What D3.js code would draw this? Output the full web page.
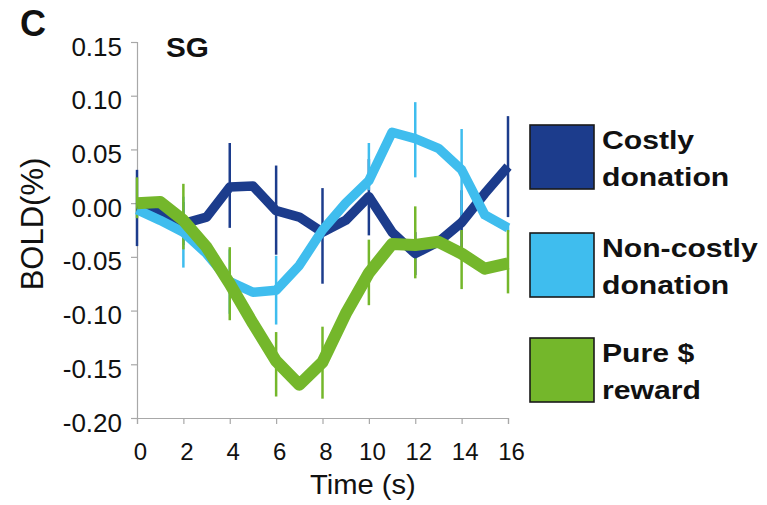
<!DOCTYPE html>
<html>
<head>
<meta charset="utf-8">
<script src="https://cdn.jsdelivr.net/npm/d3@7"></script>
<style>
  html, body { margin: 0; padding: 0; background: #ffffff; }
  svg { display: block; }
  text { font-family: "Liberation Sans", Arial, Helvetica, sans-serif; fill: #111; }
</style>
</head>
<body>
<svg id="chart" width="767" height="505"></svg>
<script>
// ---------- data ----------
const times = [0,1,2,3,4,5,6,7,8,9,10,11,12,13,14,15,16];
const errTimes = [0,2,4,6,8,10,12,14,16];
const seriesNames = ["Costly donation", "Non-costly donation", "Pure $ reward"];
const legendLine1 = ["Costly", "Non-costly", "Pure $"];
const legendLine2 = ["donation", "donation", "reward"];

const costly    = [-0.004,-0.009,-0.019,-0.013,0.015,0.016,-0.007,-0.013,-0.027,-0.016,0.006,-0.027,-0.047,-0.036,-0.018,0.009,0.034];
const nonCostly = [-0.006,-0.016,-0.027,-0.047,-0.073,-0.083,-0.081,-0.058,-0.025,0.000,0.021,0.066,0.060,0.051,0.031,-0.011,-0.023];
const pureReward= [0.000,0.001,-0.016,-0.041,-0.075,-0.112,-0.147,-0.169,-0.148,-0.103,-0.065,-0.038,-0.039,-0.036,-0.047,-0.061,-0.056];

const costlyErrUp      = [0.035,0.020,0.041,0.042,0.041,0.035,0.020,0.030,0.047];
const costlyErrDown    = [0.036,0.020,0.038,0.041,0.048,0.036,0.020,0.030,0.047];
const nonCostlyErrUp   = [0.000,0.033,0.030,0.032,0.004,0.035,0.034,0.038,0.004];
const nonCostlyErrDown = [0.000,0.033,0.030,0.032,0.004,0.009,0.036,0.045,0.004];
const pureErrUp        = [0.024,0.034,0.034,0.027,0.033,0.031,0.036,0.022,0.031];
const pureErrDown      = [0.014,0.027,0.034,0.033,0.034,0.030,0.031,0.033,0.028];

const yTicks = [0.15,0.10,0.05,0.00,-0.05,-0.10,-0.15,-0.20];
const xTicks = [0,2,4,6,8,10,12,14,16];

// ---------- styles ----------
const colors = ["#1c3c8c", "#3fbdee", "#74b72b"];
const widths = [9.5, 9.5, 12];

const series = [
  {vals: costly,    up: costlyErrUp,    down: costlyErrDown},
  {vals: nonCostly, up: nonCostlyErrUp, down: nonCostlyErrDown},
  {vals: pureReward,up: pureErrUp,      down: pureErrDown}
];

const svg = d3.select("#chart");
const x = d3.scaleLinear().domain([0,16]).range([137,508]);
const y = d3.scaleLinear().domain([-0.20,0.15]).range([418,42]);

// axes
const axisColor = "#a8a8a8";
const yAxis = svg.append("g").attr("transform","translate(137,0)")
  .call(d3.axisLeft(y).tickValues(yTicks).tickSize(6).tickPadding(9)
        .tickFormat(d => d.toFixed(2)));
yAxis.select(".domain").attr("stroke",axisColor).attr("stroke-width",1.2);
yAxis.selectAll(".tick line").attr("stroke",axisColor).attr("stroke-width",1.2);
yAxis.selectAll(".tick text").attr("font-size",26).attr("fill","#111")
  .attr("font-family","Liberation Sans, Arial, sans-serif").attr("dy","0.5em");

const xAxis = svg.append("g").attr("transform","translate(0,418)")
  .call(d3.axisBottom(x).tickValues(xTicks).tickSize(6).tickPadding(19)
        .tickFormat(d3.format("d")));
xAxis.select(".domain").attr("stroke",axisColor).attr("stroke-width",1.2);
xAxis.selectAll(".tick line").attr("stroke",axisColor).attr("stroke-width",1.2);
xAxis.selectAll(".tick text").attr("font-size",24).attr("fill","#111")
  .attr("font-family","Liberation Sans, Arial, sans-serif").attr("dx","3");

// error bars (drawn first)
series.forEach((s,i) => {
  const idx = errTimes.map(t => times.indexOf(t));
  svg.append("g").selectAll("line")
    .data(errTimes.map((t,k) => ({t, v: s.vals[idx[k]], up: s.up[k], down: s.down[k]})))
    .join("line")
    .attr("x1", d => x(d.t)).attr("x2", d => x(d.t))
    .attr("y1", d => y(d.v + d.up)).attr("y2", d => y(d.v - d.down))
    .attr("stroke", colors[i]).attr("stroke-width", 2.5);
});

// lines
const line = d3.line().x((d,k) => x(times[k])).y(d => y(d));
series.forEach((s,i) => {
  svg.append("path").datum(s.vals)
    .attr("d", line)
    .attr("fill","none")
    .attr("stroke", colors[i])
    .attr("stroke-width", widths[i])
    .attr("stroke-linejoin","round")
    .attr("stroke-linecap","butt");
});

// helper for horizontally widened text
function wideText(xp, yp, str, size, weight, sx) {
  const g = svg.append("g").attr("transform", `translate(${xp},${yp}) scale(${sx},1)`);
  return g.append("text").attr("x",0).attr("y",0).attr("font-size",size)
    .attr("font-weight",weight).text(str);
}

// titles
wideText(20, 36, "C", 36, "bold", 1.0);
wideText(166, 57, "SG", 27, "bold", 1.1);
wideText(310, 494, "Time (s)", 27, "normal", 1.08);
svg.append("text")
  .attr("transform","translate(43,224) rotate(-90)")
  .attr("text-anchor","middle").attr("font-size",31)
  .text("BOLD(%)");

// legend
const legendY = [125, 233, 338];
seriesNames.forEach((n,i) => {
  svg.append("rect").attr("x",530).attr("y",legendY[i]).attr("width",64).attr("height",64)
    .attr("fill",colors[i]).attr("stroke","#1a1a1a").attr("stroke-width",1.6);
  wideText(602, legendY[i] + 24, legendLine1[i], 26, "bold", 1.16);
  wideText(602, legendY[i] + 61, legendLine2[i], 26, "bold", 1.16);
});
</script>
</body>
</html>
